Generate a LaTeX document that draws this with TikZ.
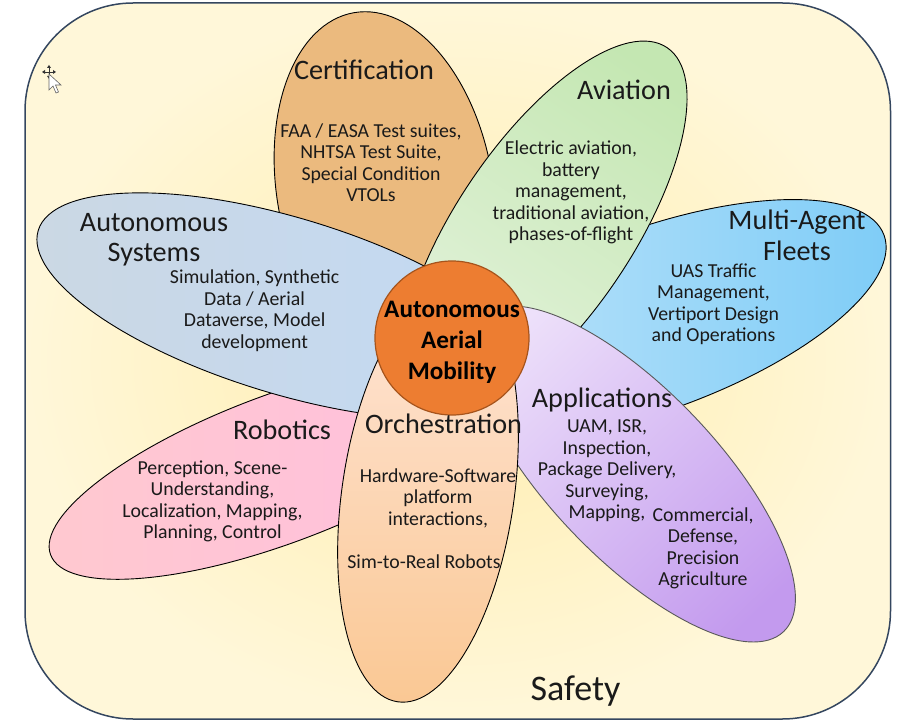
\documentclass[tikz,border=0pt]{standalone}
\usepackage{fontspec}
\setmainfont{Carlito}
\usetikzlibrary{shapes.geometric}
\definecolor{bgin}{HTML}{FFEDAE}
\definecolor{bgout}{HTML}{FFF7D9}
\definecolor{framec}{HTML}{34465F}
\definecolor{certc}{HTML}{EBBA7E}
\definecolor{avA}{HTML}{E3F2DB}
\definecolor{avB}{HTML}{C4E7B2}
\definecolor{flA}{HTML}{C4E6FA}
\definecolor{flB}{HTML}{7DCCF7}
\definecolor{asA}{HTML}{CBD8E3}
\definecolor{asB}{HTML}{C2D9F5}
\definecolor{roA}{HTML}{FFC9CF}
\definecolor{roM}{HTML}{FFA6C6}
\definecolor{roB}{HTML}{FFBEDF}
\definecolor{orA}{HTML}{FAC894}
\definecolor{orB}{HTML}{FFE5D7}
\definecolor{apA}{HTML}{EDE0FA}
\definecolor{apB}{HTML}{C39AEE}
\definecolor{hubc}{HTML}{ED7D31}
\definecolor{hubd}{HTML}{A6541C}
\definecolor{txt}{HTML}{1A1A1A}
\begin{document}
\begin{tikzpicture}[x=1pt,y=-1pt,
  petal/.style={ellipse, draw=black, line width=0.9pt, inner sep=0pt, outer sep=0pt},
  ttl/.style={font=\fontsize{28.2}{31}\selectfont, text=txt, align=center, anchor=base, inner sep=0pt},
  bdy/.style={font=\fontsize{19.8}{21.5}\selectfont, text=txt, align=center, anchor=base, inner sep=0pt},
  hubtxt/.style={font=\fontsize{25.2}{31}\selectfont\bfseries, text=black, align=center, anchor=base, inner sep=0pt}
]
\useasboundingbox (0,0) rectangle (910,727);
% frame
\node[rectangle, rounded corners=108pt, minimum width=865.5pt, minimum height=716pt,
      draw=framec, line width=1.5pt, inner color=bgin, outer color=bgout] (frame) at (457.75,361) {};
% petals (anchor of multi-line texts = baseline of last line)
\node[petal, fill=certc, minimum width=360pt, minimum height=216pt, rotate=100] (cert) at (385,190) {};
\node[petal, bottom color=flA, top color=flB, shading angle=-90, minimum width=496pt, minimum height=182pt, rotate=20] (fleet) at (651,320) {};
\node[petal, bottom color=avA, top color=avB, shading angle=-34, minimum width=440pt, minimum height=176pt, rotate=56] (avia) at (544,230) {};
\node[petal, bottom color=roA, middle color=roM, top color=roB, shading angle=-90, minimum width=488pt, minimum height=148pt, rotate=20.6] (robo) at (279,469) {};
\node[petal, bottom color=asA, top color=asB, shading angle=-90, minimum width=520pt, minimum height=176pt, rotate=-16.9] (asys) at (287,306) {};
\node[petal, draw=black!65, bottom color=apA, top color=apB, shading angle=-136.3, minimum width=436pt, minimum height=168pt, rotate=-46.3] (appl) at (633,474) {};
\node[petal, bottom color=orA, top color=orB, shading angle=0, minimum width=420pt, minimum height=172pt, rotate=81.7] (orch) at (428,494) {};
% hub
\node[circle, fill=hubc, draw=hubd, line width=1.2pt, minimum size=154pt, inner sep=0pt] (hub) at (452,338) {};
% titles
\node[ttl] (certT) at (364,80) {Certification};
\node[ttl] (aviaT) at (624,100) {Aviation};
\node[ttl] (fleetT) at (797,261) {Multi-Agent\\Fleets};
\node[ttl] (asysT) at (154,262) {Autonomous\\Systems};
\node[ttl] (roboT) at (282,439) {Robotics};
\node[ttl] (orchT) at (443.5,433) {Orchestration};
\node[ttl] (applT) at (602,407) {Applications};
\node[font=\fontsize{36}{40}\selectfont, text=txt, anchor=base, inner sep=0pt] (safety) at (575.5,700) {Safety};
% hub text
\node[hubtxt] (hubT) at (452,379) {Autonomous\\Aerial\\Mobility};
% bodies
\node[bdy] (certB) at (371,202) {FAA / EASA Test suites,\\NHTSA Test Suite,\\Special Condition\\VTOLs};
\node[bdy] (aviaB) at (571,241) {Electric aviation,\\battery\\management,\\traditional aviation,\\phases-of-flight};
\node[bdy] (fleetB) at (713.5,341.5) {UAS Traffic\\Management,\\Vertiport Design\\and Operations};
\node[bdy] (asysB) at (254.6,348) {Simulation, Synthetic\\Data / Aerial\\Dataverse, Model\\development};
\node[bdy] (roboB) at (212.5,538.5) {Perception, Scene-\\Understanding,\\Localization, Mapping,\\Planning, Control};
\node[bdy] (orchB) at (438,568) {Hardware-Software\\platform\\interactions,\\[21.5pt]Sim-to-Real Robots\hspace*{28pt}};
\node[bdy] (applB) at (607,518.5) {UAM, ISR,\\Inspection,\\Package Delivery,\\Surveying,\\Mapping,};
\node[bdy] (applC) at (703,585.5) {Commercial,\\Defense,\\Precision\\Agriculture};
% cursor
\draw[black!80, line width=0.8pt] (43,72) -- (55,72) (49,66) -- (49,78);
\fill[black!80] (42,72) -- (45,70) -- (45,74) -- cycle (56,72) -- (53,70) -- (53,74) -- cycle
  (49,65) -- (47,68) -- (51,68) -- cycle (49,79) -- (47,76) -- (51,76) -- cycle;
\draw[fill=white, draw=black!60, line width=0.6pt] (49,74) -- (49,90) -- (53,86) -- (56,93) -- (58.5,92) -- (55.5,85) -- (61,85) -- cycle;
\end{tikzpicture}
\end{document}
